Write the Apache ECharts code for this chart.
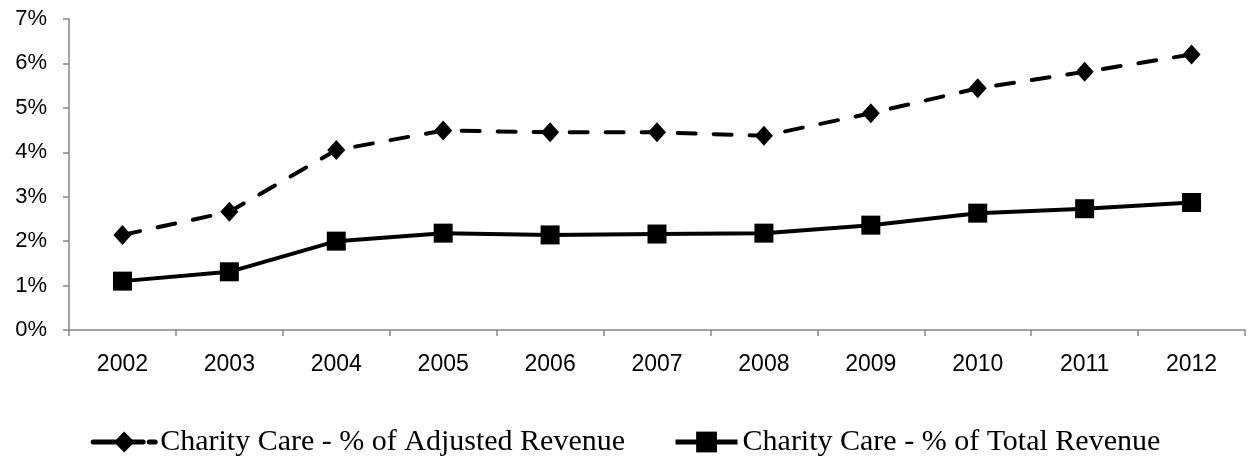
<!DOCTYPE html>
<html>
<head>
<meta charset="utf-8">
<script src="https://cdn.jsdelivr.net/npm/echarts@6/dist/echarts.min.js"></script>
<style>
    html, body {margin: 0; padding: 0; background: #fff;}
    #main {width: 1251px; height: 458px;}
</style>
</head>
<body>
<div id="main"></div>
<script>
// 年份
var years = ['2002', '2003', '2004', '2005', '2006', '2007', '2008', '2009', '2010', '2011', '2012'];
// Charity Care - % of Adjusted Revenue
var adjustedRevenue = [2.14, 2.66, 4.05, 4.49, 4.45, 4.45, 4.37, 4.88, 5.44, 5.81, 6.20];
// Charity Care - % of Total Revenue
var totalRevenue = [1.10, 1.31, 2.00, 2.18, 2.14, 2.16, 2.18, 2.36, 2.63, 2.73, 2.87];
var seriesNames = ['Charity Care - % of Adjusted Revenue', 'Charity Care - % of Total Revenue'];

var axisColor = '#868686';
var dash = [18, 18];
var myChart = echarts.init(document.getElementById('main'));
myChart.setOption({
    animation: false,
    grid: {left: 69, right: 6, top: 19, bottom: 128},
    legend: {
        top: 422,
        left: 'center',
        itemGap: 48,
        itemWidth: 62,
        itemHeight: 26,
        textStyle: {
            fontFamily: 'Liberation Serif',
            fontSize: 30,
            color: '#000'
        },
        data: [
            {name: seriesNames[0], lineStyle: {width: 5, type: [22, 6], color: '#000'}},
            {name: seriesNames[1], lineStyle: {width: 5, color: '#000'}}
        ]
    },
    xAxis: {
        type: 'category',
        data: years,
        boundaryGap: true,
        axisLine: {lineStyle: {color: axisColor, width: 1.5}},
        axisTick: {show: true, length: 6, lineStyle: {color: axisColor, width: 1.5}},
        axisLabel: {
            margin: 23,
            fontFamily: 'Liberation Sans',
            fontSize: 23,
            color: '#000'
        }
    },
    yAxis: {
        type: 'value',
        min: 0,
        max: 7,
        interval: 1,
        splitLine: {show: false},
        axisLine: {show: true, lineStyle: {color: axisColor, width: 1.5}},
        axisTick: {show: true, length: 6, lineStyle: {color: axisColor, width: 1.5}},
        axisLabel: {
            margin: 22,
            fontFamily: 'Liberation Sans',
            fontSize: 22,
            color: '#000',
            formatter: '{value}%'
        }
    },
    series: [
        {
            name: seriesNames[0],
            type: 'line',
            data: adjustedRevenue,
            symbol: 'diamond',
            symbolSize: [18, 20],
            lineStyle: {color: '#000', width: 4, type: dash, cap: 'round'},
            itemStyle: {color: '#000'}
        },
        {
            name: seriesNames[1],
            type: 'line',
            data: totalRevenue,
            symbol: 'rect',
            symbolSize: 19,
            lineStyle: {color: '#000', width: 4},
            itemStyle: {color: '#000'}
        }
    ]
});
</script>
</body>
</html>
